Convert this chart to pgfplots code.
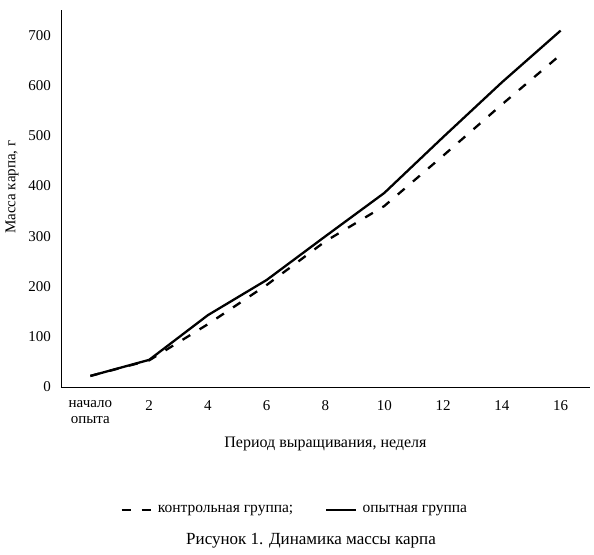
\documentclass[border=0pt]{standalone}
\usepackage{fontspec}
\setmainfont{Liberation Serif}
\usepackage{pgfplots}
\pgfplotsset{compat=1.18}
\begin{document}
\fontsize{15}{18}\selectfont
\begin{tikzpicture}[x=1pt,y=1pt]
\path[use as bounding box] (-61,-167) rectangle (533,387);
\begin{axis}[
  at={(0,0)}, anchor=south west,
  scale only axis, width=529pt, height=377pt,
  xmin=-0.5, xmax=8.5, ymin=0, ymax=750,
  axis x line*=bottom, axis y line*=left,
  axis line style={-, line width=0.9pt},
  xtick={0,1,2,3,4,5,6,7,8},
  xticklabels={{начало\\опыта},2,4,6,8,10,12,14,16},
  xticklabel style={align=center, font=\fontsize{15}{16.5}\selectfont, anchor=north, yshift=-8pt},
  major x tick style={draw=none},
  extra x ticks={-0.5,0.5,1.5,2.5,3.5,4.5,5.5,6.5,7.5,8.5},
  extra x tick labels={},
  extra x tick style={tick align=outside, major tick length=4pt, tick style={black, line width=0.9pt}},
  ytick={0,100,...,700},
  ytick style={draw=none},
  yticklabel style={font=\fontsize{15}{18}\selectfont, xshift=-5pt},
  /pgf/number format/assume math mode=true,
  xlabel={Период выращивания, неделя},
  xlabel style={at={(axis description cs:0.5,0)}, anchor=center, yshift=-57pt, font=\fontsize{16}{18}\selectfont},
  ylabel={Масса карпа, г},
  ylabel style={at={(axis description cs:0,0.53)}, anchor=center, yshift=49pt, font=\fontsize{15}{18}\selectfont},
  legend columns=2,
  legend style={at={(axis description cs:0.442,-0.326)}, anchor=center, draw=none, fill=none,
    font=\fontsize{15.5}{18}\selectfont, /tikz/every even column/.append style={column sep=30pt},
    /tikz/every odd column/.append style={column sep=3pt}},
  legend image code/.code={\draw[#1] (0pt,0pt) -- (30pt,0pt);},
]
\addplot[black, line width=2.3pt, dash pattern=on 9pt off 11pt] coordinates {
(0,22) (1,53) (2,125) (3,203) (4,290) (5,360) (6,460) (7,562) (8,661)};
\addlegendentry{контрольная группа;}
\addplot[black, line width=2.3pt] coordinates {
(0,22) (1,54) (2,143) (3,213) (4,300) (5,386) (6,497) (7,606) (8,709)};
\addlegendentry{опытная группа}
\end{axis}
\node[font=\fontsize{17}{20}\selectfont] at (250,-154) {Рисунок 1. Динамика массы карпа};
\end{tikzpicture}
\end{document}
